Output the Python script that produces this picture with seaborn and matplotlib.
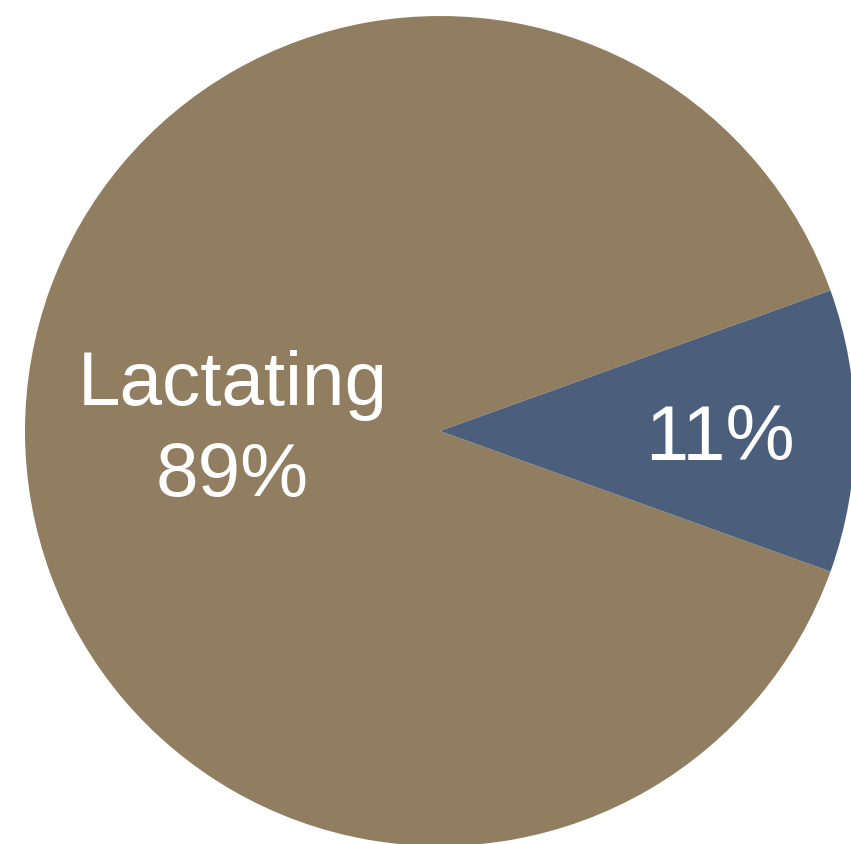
import matplotlib
matplotlib.use("Agg")
import matplotlib.pyplot as plt
import seaborn as sns

categories = ["Lactating", ""]
values = [89, 11]
labels = ["Lactating\n89%", "11%"]
colors = ["#917E60", "#4B5F7C"]

sns.set_theme(style="white")
plt.rcParams['font.family'] = ['Liberation Sans', 'DejaVu Sans']

fig = plt.figure(figsize=(8.51, 8.44), dpi=100)
W, H = 851, 844
cx, cy, r = 440, 431, 415
ax = fig.add_axes([(cx - r) / W, (H - cy - r) / H, 2 * r / W, 2 * r / H])

# small wedge centred on the 0° direction
small_span = values[1] * 360 / sum(values)
wedges, _ = ax.pie(values, colors=colors, startangle=small_span / 2,
                   counterclock=True, radius=1.0,
                   wedgeprops=dict(linewidth=0))
ax.set_xlim(-1, 1)
ax.set_ylim(-1, 1)
ax.set_aspect("equal")
ax.axis("off")

ax.text(-0.5, 0.0, labels[0], ha="center", va="center", color="white",
        fontsize=55, linespacing=1.35)
ax.text(0.675, -0.02, labels[1], ha="center", va="center", color="white",
        fontsize=56)

fig.savefig("out.png", dpi=100)
